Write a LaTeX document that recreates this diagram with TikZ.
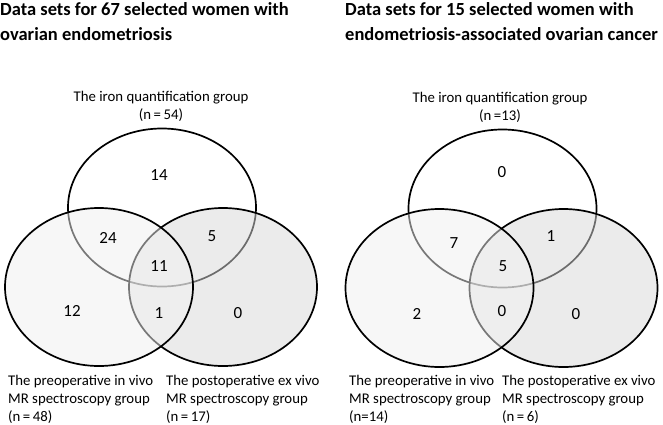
\documentclass[tikz,border=0pt]{standalone}
\usepackage{fontspec}
\setmainfont{Carlito}
\usetikzlibrary{shapes.geometric}
\definecolor{lfill}{gray}{0.945}
\definecolor{rfill}{gray}{0.851}
\tikzset{
  venn/.style={ellipse, draw=black, line width=1.7pt, minimum width=188pt, minimum height=158pt, inner sep=0pt, fill opacity=0.5},
  title/.style={font=\bfseries\fontsize{18.5}{25}\selectfont, anchor=north west, inner sep=0pt, align=left},
  grp/.style={font=\fontsize{14.8}{17.8}\selectfont, inner sep=0pt},
  num/.style={font=\fontsize{17}{20}\selectfont, inner sep=0pt}
}
\begin{document}
\begin{tikzpicture}[x=1pt,y=-1pt]
\useasboundingbox[fill=white] (0,0) rectangle (663,425);
% left diagram
\node[title] (t1) at (0,2) {Data sets for 67 selected women with\\ovarian endometriosis};
\node[venn, fill=white] (a1) at (162,207.5) {};
\node[venn, fill=rfill] (c1) at (223,287) {};
\node[venn, fill=lfill] (b1) at (99,287) {};
\node[grp, align=center, anchor=north] (la1) at (161,91.5) {The iron quantification group\\(n\,=\,54)};
\node[grp, align=left, anchor=north west] (lb1) at (8,375.5) {The preoperative in vivo\\MR spectroscopy group\\(n\,=\,48)};
\node[grp, align=left, anchor=north west] (lc1) at (166,375.5) {The postoperative ex vivo\\MR spectroscopy group\\(n\,=\,17)};
\node[num] (n1a) at (159,175) {14};
\node[num] (n1b) at (108,238) {24};
\node[num] (n1c) at (212,236) {5};
\node[num] (n1d) at (159,266) {11};
\node[num] (n1e) at (72,311) {12};
\node[num] (n1f) at (159,313) {1};
\node[num] (n1g) at (238,313) {0};
% right diagram
\node[title] (t2) at (345,2) {Data sets for 15 selected women with\\endometriosis-associated ovarian cancer};
\node[venn, fill=white] (a2) at (502.5,208.5) {};
\node[venn, fill=rfill] (c2) at (563.5,288) {};
\node[venn, fill=lfill] (b2) at (439.5,288) {};
\node[grp, align=center, anchor=north] (la2) at (500,92.5) {The iron quantification group\\(n\,=13)};
\node[grp, align=left, anchor=north west] (lb2) at (349,375.5) {The preoperative in vivo\\MR spectroscopy group\\(n=14)};
\node[grp, align=left, anchor=north west] (lc2) at (502,375.5) {The postoperative ex vivo\\MR spectroscopy group\\(n\,=\,6)};
\node[num] (n2a) at (502,172) {0};
\node[num] (n2b) at (454,243) {7};
\node[num] (n2c) at (551,236) {1};
\node[num] (n2d) at (503,266) {5};
\node[num] (n2e) at (417,314) {2};
\node[num] (n2f) at (502,311) {0};
\node[num] (n2g) at (576,314) {0};
\end{tikzpicture}
\end{document}
